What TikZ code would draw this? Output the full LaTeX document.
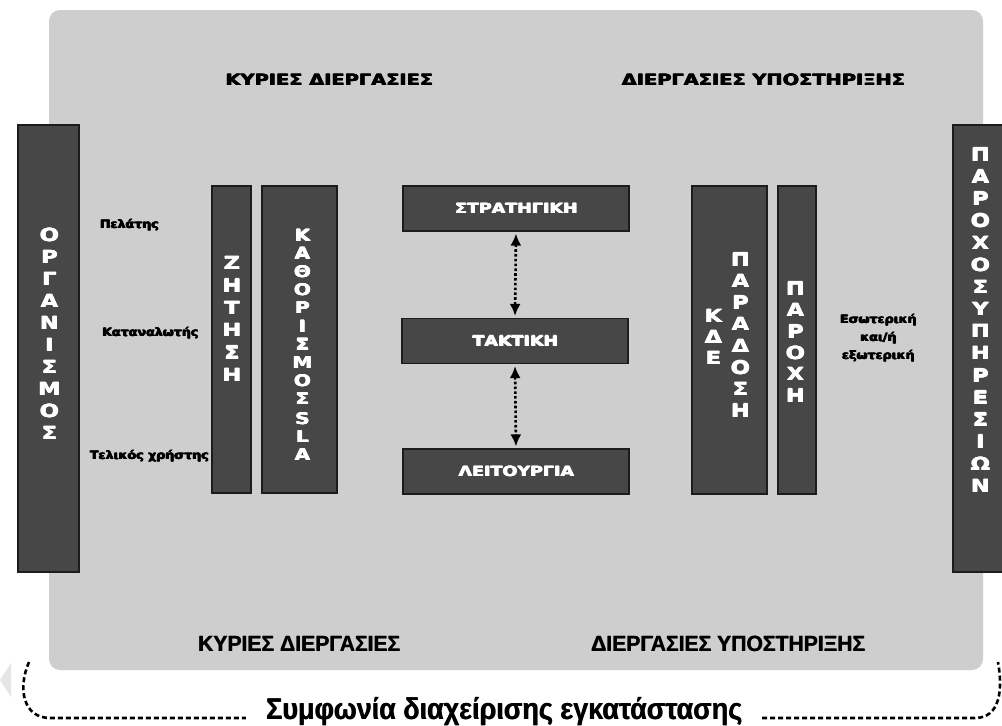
\documentclass[tikz,border=0pt]{standalone}
\usepackage{fontspec}
\setmainfont{DejaVu Sans}
\newfontfamily\heavy{DejaVu Sans}[FakeStretch=1.25]
\newfontfamily\labelfont{DejaVu Sans}[FakeStretch=1.1]
\newfontfamily\arialbold{Liberation Sans}[FakeStretch=0.96]
\newfontfamily\narrowbold{Liberation Sans}[FakeStretch=0.9]
\usetikzlibrary{arrows.meta}
\definecolor{panel}{HTML}{CECECE}
\definecolor{barfill}{HTML}{474747}
\definecolor{barline}{HTML}{1C1C1C}
\definecolor{ghost}{HTML}{E6E6E6}
% heavier strokes: overprint the glyphs with small offsets
\newcommand\thick[1]{\leavevmode\rlap{\kern0.5pt#1}\rlap{\kern0.9pt#1}%
  \rlap{\raisebox{0.4pt}{\kern0.45pt#1}}#1}
\newcommand\semithick[1]{\leavevmode\rlap{\kern0.6pt#1}#1}
\begin{document}
\begin{tikzpicture}[x=1pt,y=-1pt,
  bar/.style={draw=barline,line width=1.2pt,fill=barfill},
  vstack/.style={text=white,align=center,inner sep=0pt},
  levelbox/.style={bar,minimum width=226pt,minimum height=45pt,inner sep=0pt,
    text=white,font=\heavy\bfseries\fontsize{14}{17}\selectfont},
  headline/.style={font=\heavy\bfseries\fontsize{15.5}{18}\selectfont,inner sep=0pt},
  footline/.style={font=\arialbold\bfseries\fontsize{22}{24}\selectfont,inner sep=0pt},
  lbl/.style={font=\labelfont\bfseries\fontsize{11.5}{18}\selectfont,align=center,inner sep=0pt},
  link/.style={line width=2.6pt,dash pattern=on 2.6pt off 2.2pt,<->,
    >={Latex[length=12pt,width=11pt]},shorten >=2pt,shorten <=2pt},
  brace/.style={line width=2.6pt,dash pattern=on 5pt off 3pt}]

% canvas
\useasboundingbox (0,0) rectangle (1002,726);
\fill[white] (0,0) rectangle (1002,726);

% grey process area
\fill[panel,rounded corners=11pt] (49,10) rectangle (983,670);

% side bars
\draw[bar] (18,125) rectangle (79,572);
\draw[bar] (953,125) rectangle (1003,572);
\node[vstack,font=\heavy\bfseries\fontsize{18}{22}\selectfont] (org) at (49,334)
  {\thick{Ο}\\\thick{Ρ}\\\thick{Γ}\\\thick{Α}\\\thick{Ν}\\\thick{Ι}\\\thick{Σ}\\\thick{Μ}\\\thick{Ο}\\\thick{Σ}};
\node[vstack,font=\heavy\bfseries\fontsize{18}{22.1}\selectfont] (prov) at (980,320)
  {\thick{Π}\\\thick{Α}\\\thick{Ρ}\\\thick{Ο}\\\thick{Χ}\\\thick{Ο}\\\thick{Σ}\\\thick{Υ}\\\thick{Π}\\\thick{Η}\\\thick{Ρ}\\\thick{Ε}\\\thick{Σ}\\\thick{Ι}\\\thick{Ω}\\\thick{Ν}};

% main process columns
\draw[bar] (212,186) rectangle (251,493);
\draw[bar] (262,186) rectangle (337,493);
\node[vstack,font=\heavy\bfseries\fontsize{18}{22.4}\selectfont] (demand) at (231.5,319)
  {\thick{Ζ}\\\thick{Η}\\\thick{Τ}\\\thick{Η}\\\thick{Σ}\\\thick{Η}};
\node[vstack,font=\heavy\bfseries\fontsize{16}{18.2}\selectfont] (sla) at (302,345)
  {\thick{Κ}\\\thick{Α}\\\thick{Θ}\\\thick{Ο}\\\thick{Ρ}\\\thick{Ι}\\\thick{Σ}\\\thick{Μ}\\\thick{Ο}\\\thick{Σ}\\[1.5pt]\thick{S}\\\thick{L}\\\thick{A}};

% support process columns
\draw[bar] (692,186) rectangle (767,494);
\draw[bar] (778,186) rectangle (816,494);
\node[vstack,font=\heavy\bfseries\fontsize{18}{21}\selectfont] (kde) at (713,337)
  {\thick{Κ}\\\thick{Δ}\\\thick{Ε}};
\node[vstack,font=\heavy\bfseries\fontsize{18}{21.6}\selectfont] (deliv) at (740,335)
  {\thick{Π}\\\thick{Α}\\\thick{Ρ}\\\thick{Α}\\\thick{Δ}\\\thick{Ο}\\\thick{Σ}\\\thick{Η}};
\node[vstack,font=\heavy\bfseries\fontsize{18}{21.4}\selectfont] (supply) at (795,342)
  {\thick{Π}\\\thick{Α}\\\thick{Ρ}\\\thick{Ο}\\\thick{Χ}\\\thick{Η}};

% management levels
\node[levelbox] (strat) at (516,208.5) {\thick{ΣΤΡΑΤΗΓΙΚΗ}};
\node[levelbox] (tact)  at (515,341)   {\thick{ΤΑΚΤΙΚΗ}};
\node[levelbox] (oper)  at (516,471.5) {\thick{ΛΕΙΤΟΥΡΓΙΑ}};
\draw[link] (strat.south) -- (tact.north);
\draw[link] (tact.south) -- (oper.north);

% headings
\node[headline] (mainTop) at (329,80) {\thick{ΚΥΡΙΕΣ ΔΙΕΡΓΑΣΙΕΣ}};
\node[headline] (suppTop) at (763,80) {\thick{ΔΙΕΡΓΑΣΙΕΣ ΥΠΟΣΤΗΡΙΞΗΣ}};
\node[footline] (mainBot) at (299,644) {\semithick{ΚΥΡΙΕΣ ΔΙΕΡΓΑΣΙΕΣ}};
\node[footline] (suppBot) at (728,644) {\semithick{ΔΙΕΡΓΑΣΙΕΣ ΥΠΟΣΤΗΡΙΞΗΣ}};

% customer side labels
\node[lbl] (cust)  at (129,225) {\thick{Πελάτης}};
\node[lbl] (cons)  at (150,333) {\thick{Καταναλωτής}};
\node[lbl] (user)  at (149,456) {\thick{Τελικός χρήστης}};
\node[lbl] (where) at (878,338) {\thick{Εσωτερική}\\\thick{και/ή}\\\thick{εξωτερική}};

% agreement brace
\fill[ghost] (0,680) -- (11,663) -- (11,697) -- cycle;
\node[font=\narrowbold\bfseries\fontsize{30}{34}\selectfont,inner xsep=20pt,inner ysep=0pt,
  anchor=base] (agree) at (504,719) {\semithick{Συμφωνία διαχείρισης εγκατάστασης}};
\coordinate (braceL) at (29,662);
\coordinate (braceR) at (998,662);
\draw[brace] (braceL) .. controls (17,690) and (24,718) .. (50,718)
  -- (agree.west |- 0,718);
\draw[brace] (agree.east |- 0,718) -- (975,718)
  .. controls (1000,718) and (1003,690) .. (braceR);
\end{tikzpicture}
\end{document}
